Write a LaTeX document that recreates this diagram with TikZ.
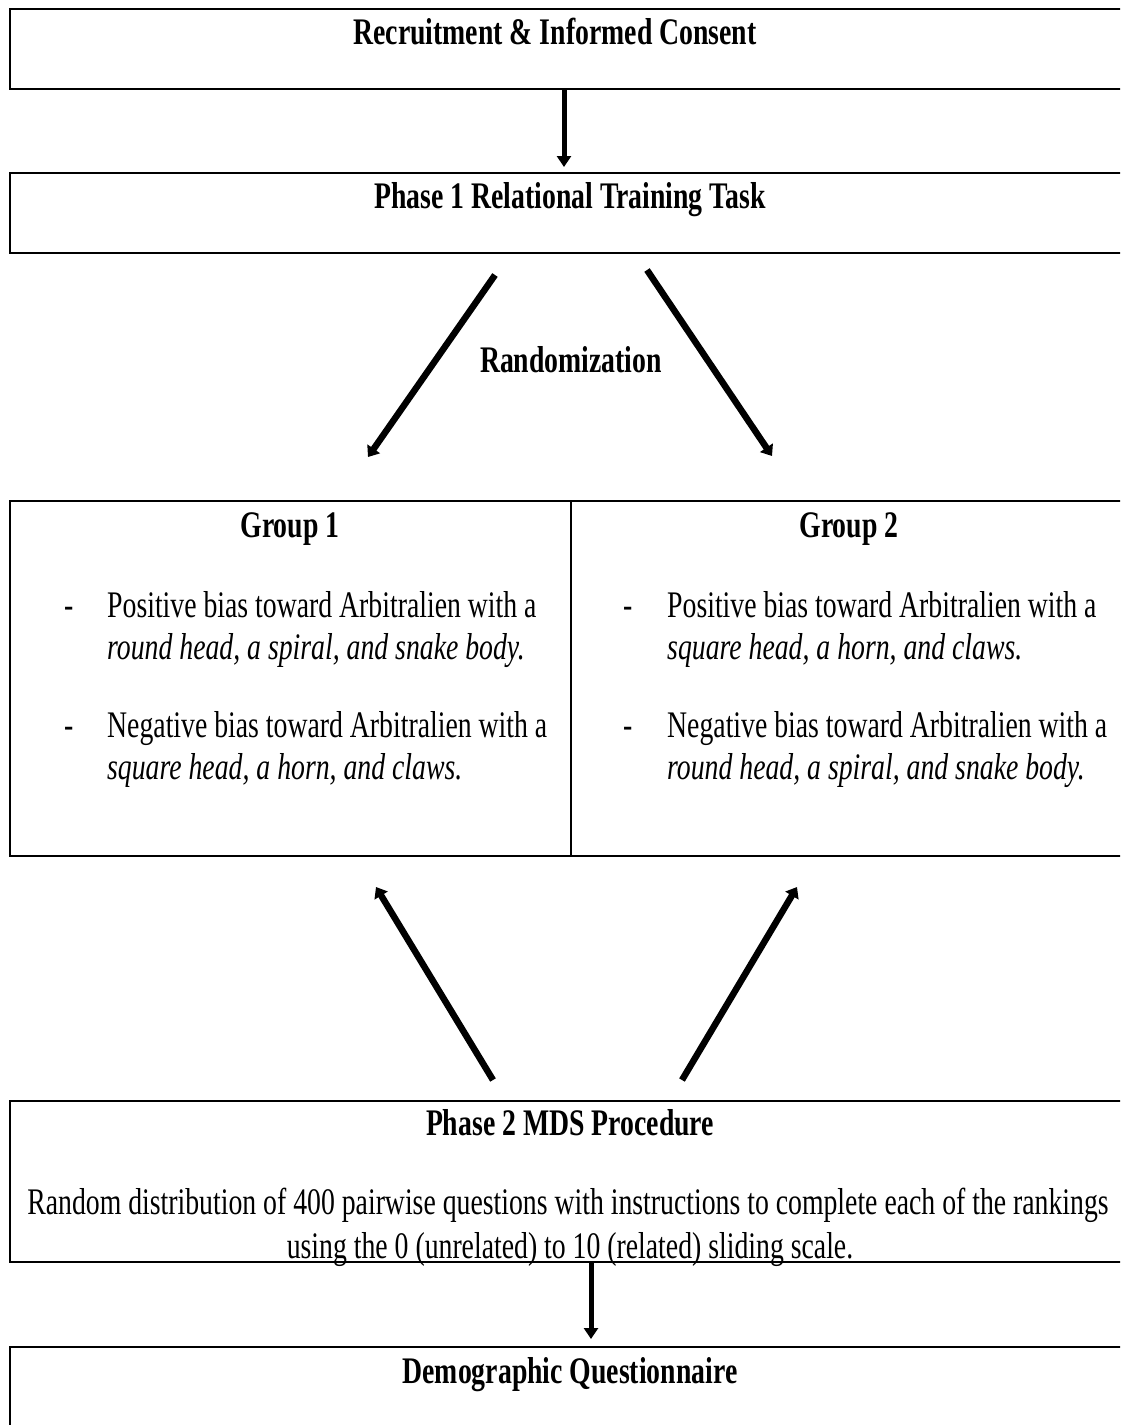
\documentclass[tikz,border=0pt]{standalone}
\usepackage{fontspec}
\setmainfont{Liberation Serif}[FakeStretch=0.74]
\usetikzlibrary{arrows.meta}
\begin{document}
\begin{tikzpicture}[x=1pt,y=-1pt,
  box/.style={draw=black, line width=2.6pt, inner sep=0pt, minimum width=1125pt},
  txt/.style={inner sep=0pt, anchor=base, font=\fontsize{37.5}{42}\selectfont},
  ltxt/.style={txt, anchor=base west},
  bold/.style={txt, font=\fontsize{37.5}{42}\selectfont\bfseries},
  varrow/.style={line width=5pt, -{Triangle[length=11pt,width=14pt]}},
  darrow/.style={line width=6.5pt, -{Triangle[length=10pt,width=15pt]}},
  divider/.style={line width=1.6pt}
]
\useasboundingbox (0,0) rectangle (1120,1425);
\begin{scope}
\clip (0,0) rectangle (1120,1425);
% boxes
\node[box, minimum height=80pt] (rec) at (572.5,49) {};
\node[box, minimum height=80pt] (ph1) at (572.5,213) {};
\node[box, minimum height=355pt] (grp) at (572.5,678.5) {};
\node[box, minimum height=161pt] (ph2) at (572.5,1181.5) {};
\node[box, minimum height=100pt] (dem) at (572.5,1397) {};
% divider
\coordinate (dtop) at (571,501);
\coordinate (dbot) at (571,856);
\draw[divider] (dtop) -- (dbot);
% texts
\node[bold] (trec) at (555,44) {Recruitment \& Informed Consent};
\node[bold] (tph1) at (570,208) {Phase 1 Relational Training Task};
\node[bold] (trand) at (571,372) {Randomization};
\node[bold] (tg1) at (290,537) {Group 1};
\node[bold] (tg2) at (849,537) {Group 2};
% group 1 bullets
\node[ltxt] (d1a) at (64,617) {-};
\node[ltxt] (g1a) at (107,617) {Positive bias toward Arbitralien with a};
\node[ltxt] (g1b) at (107,659) {\itshape round head, a spiral, and snake body.};
\node[ltxt] (d1b) at (64,737) {-};
\node[ltxt] (g1c) at (107,737) {Negative bias toward Arbitralien with a};
\node[ltxt] (g1d) at (107,779) {\itshape square head, a horn, and claws.};
% group 2 bullets
\node[ltxt] (d2a) at (623,617) {-};
\node[ltxt] (g2a) at (667,617) {Positive bias toward Arbitralien with a};
\node[ltxt] (g2b) at (667,659) {\itshape square head, a horn, and claws.};
\node[ltxt] (d2b) at (623,737) {-};
\node[ltxt] (g2c) at (667,737) {Negative bias toward Arbitralien with a};
\node[ltxt] (g2d) at (667,779) {\itshape round head, a spiral, and snake body.};
% phase 2
\node[bold] (tph2) at (570,1135) {Phase 2 MDS Procedure};
\node[txt] (tph2a) at (568,1214) {Random distribution of 400 pairwise questions with instructions to complete each of the rankings};
\node[txt] (tph2b) at (570,1258) {using the 0 (unrelated) to 10 (related) sliding scale.};
\node[bold] (tdem) at (570,1383) {Demographic Questionnaire};
% connectors
\coordinate (a1s) at (564,89);
\coordinate (a1e) at (564,167);
\draw[varrow] (a1s) -- (a1e);
\coordinate (rls) at (495,275);
\coordinate (rle) at (368,457);
\draw[darrow] (rls) -- (rle);
\coordinate (rrs) at (647,270);
\coordinate (rre) at (772,456);
\draw[darrow] (rrs) -- (rre);
\coordinate (lls) at (493,1080);
\coordinate (lle) at (376,887);
\draw[darrow] (lls) -- (lle);
\coordinate (lrs) at (682,1080);
\coordinate (lre) at (797,887);
\draw[darrow] (lrs) -- (lre);
\coordinate (a2s) at (591,1262);
\coordinate (a2e) at (591,1339);
\draw[varrow] (a2s) -- (a2e);
\end{scope}
\end{tikzpicture}
\end{document}
